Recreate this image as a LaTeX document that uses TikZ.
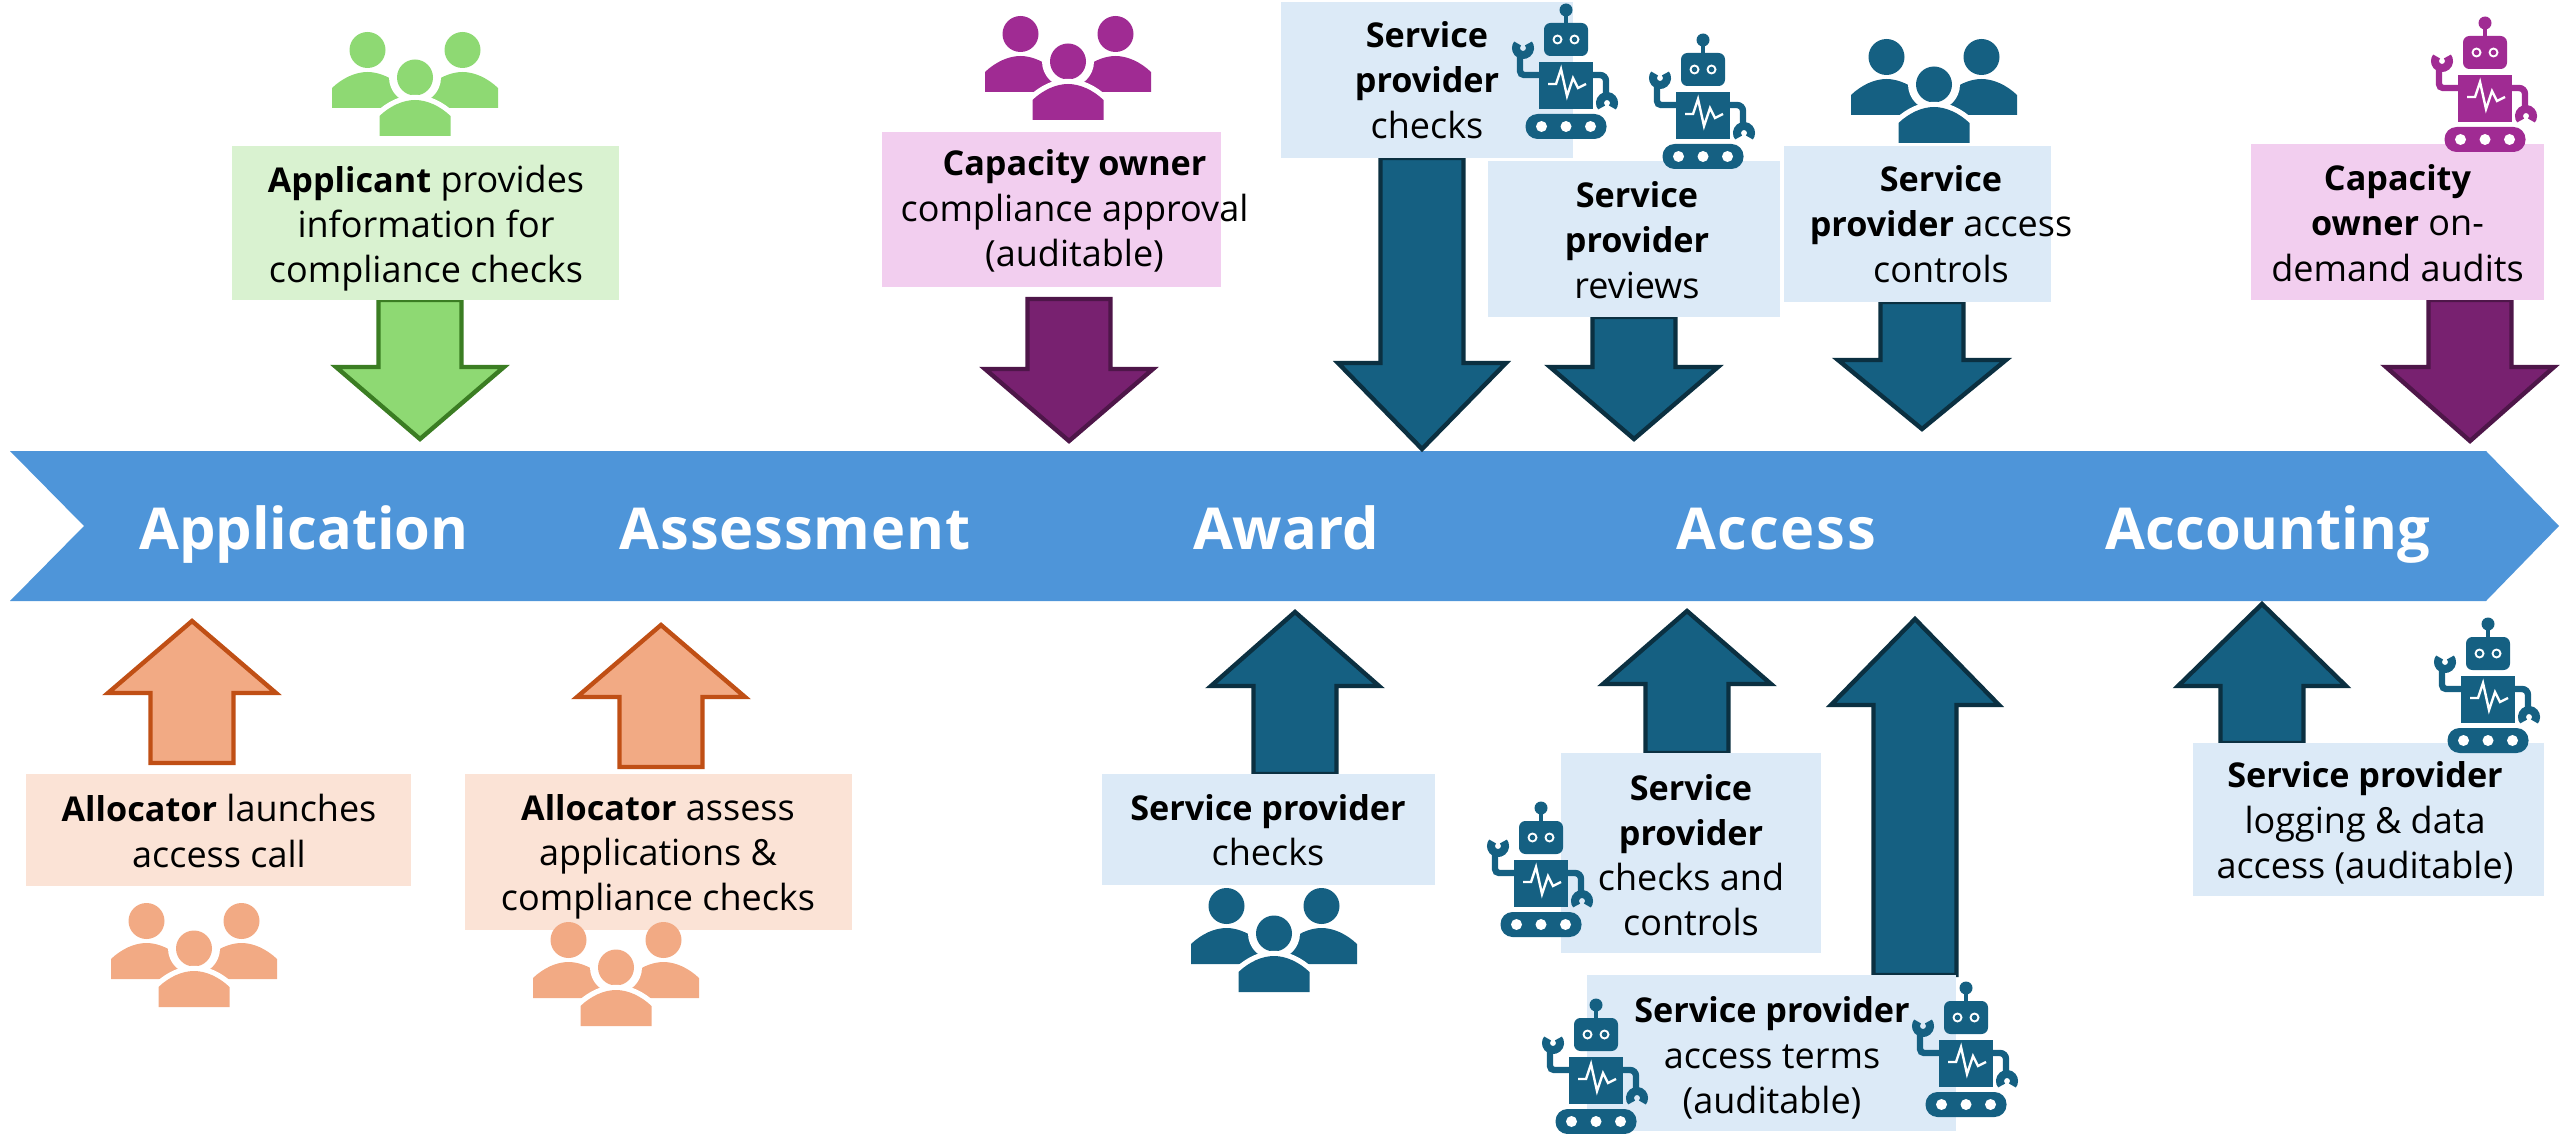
\documentclass[tikz,border=0pt]{standalone}
\usepackage{fontspec}
\setmainfont[BoldFeatures={Scale=0.95}]{Open Sans}
\definecolor{bandblue}{HTML}{4E95D9}
\definecolor{steel}{HTML}{156082}
\definecolor{steeldark}{HTML}{0B3041}
\definecolor{steelbg}{HTML}{DCEAF7}
\definecolor{leaf}{HTML}{8ED973}
\definecolor{leafdark}{HTML}{3B7D23}
\definecolor{leafbg}{HTML}{D9F2D0}
\definecolor{peach}{HTML}{F2AA84}
\definecolor{peachdark}{HTML}{C04F15}
\definecolor{peachbg}{HTML}{FBE3D6}
\definecolor{plum}{HTML}{A02B93}
\definecolor{plumdark}{HTML}{782170}
\definecolor{plumedge}{HTML}{4E1649}
\definecolor{plumbg}{HTML}{F2CEEF}
\tikzset{
  infotext/.style={inner sep=0pt, align=center, font=\fontsize{9}{11.3}\selectfont},
  stagename/.style={text=white, anchor=base, inner sep=0pt, font=\fontsize{15.2}{16}\selectfont\bfseries},
  pics/people/.style={code={
    \foreach \sx in {-47.5,47.5} {
      \fill[#1] (\sx,18) circle (18);
      \fill[#1] (\sx-35.5,76) -- (\sx-35.5,56) .. controls (\sx-25,46) and (\sx-12,40) .. (\sx,40)
        .. controls (\sx+12,40) and (\sx+25,46) .. (\sx+35.5,56) -- (\sx+35.5,76) -- cycle;
    }
    \fill[white] (0,45.5) circle (26);
    \fill[#1] (0,45.5) circle (18);
    \path[draw=white, line width=2.6pt] (-35.5,84) .. controls (-25,74) and (-12,68) .. (0,68)
      .. controls (12,68) and (25,74) .. (35.5,84);
    \fill[#1] (-35.5,104) -- (-35.5,84) .. controls (-25,74) and (-12,68) .. (0,68)
      .. controls (12,68) and (25,74) .. (35.5,84) -- (35.5,104) -- cycle;
  }},
  pics/robot/.style={code={
    \fill[#1] (0,7) circle (6.5);
    \fill[#1] (-2,10) rectangle (2,22);
    \fill[#1, rounded corners=1.6pt] (-22,20) rectangle (22,53);
    \foreach \sx in {-8.5,8.5} {
      \fill[white] (\sx,36.5) circle (5);
      \fill[#1] (\sx,36.5) circle (2.8);
    }
    \fill[#1] (-27,59) rectangle (27,106);
    \draw[white, line width=0.6pt] (-18,81) -- (-10,81) -- (-5,66) -- (1,93) -- (7,75) -- (12,85) -- (20,81);
    \draw[#1, line width=1.6pt, rounded corners=1pt] (-27,72) -- (-46,72) -- (-46,50);
    \draw[#1, line width=1.6pt, rounded corners=1.5pt] (27,72) -- (40,72) -- (40,92);
    \draw[#1, line width=2pt] (-43,45) ++(-40:7) arc[start angle=-40, end angle=220, radius=7];
    \draw[#1, line width=2pt] (41,100) ++(140:7) arc[start angle=140, end angle=400, radius=7];
    \fill[#1, rounded corners=3pt] (-40.5,111) rectangle (40.5,136);
    \foreach \sx in {-24.5,0,24.5} \fill[white] (\sx,123.5) circle (5.5);
  }},
}
% block arrow: style, centre x, tail y, shoulder y, tip y
\newcommand{\blockarrow}[5]{
  \path[#1, line width=1.1pt, miter limit=10] (#2-41.5,#3) -- (#2-41.5,#4) -- (#2-84,#4) -- (#2,#5) -- (#2+84,#4) -- (#2+41.5,#4) -- (#2+41.5,#3) -- cycle;
}
\begin{document}
\begin{tikzpicture}[x=0.25pt, y=-0.25pt]
  \useasboundingbox (0,0) rectangle (2560,1134);
  % stage band
  \fill[bandblue] (10,451) -- (2486,451) -- (2559,526) -- (2486,601) -- (10,601) -- (84,526) -- cycle;
  \node[stagename] (application) at (304,549) {Application};
  \node[stagename] (assessment) at (795,549) {\addfontfeature{LetterSpace=1.5}Assessment};
  \node[stagename] (award) at (1286,549) {Award};
  \node[stagename] (access) at (1776,549) {\addfontfeature{LetterSpace=3}Access};
  \node[stagename] (accounting) at (2268,549) {Accounting};
  % arrows above
  \blockarrow{fill=leaf, draw=leafdark}{420}{300}{367}{439}
  \blockarrow{fill=plumdark, draw=plumedge}{1069}{299}{369}{441}
  \blockarrow{fill=steel, draw=steeldark}{1422}{158}{363}{449}
  \blockarrow{fill=steel, draw=steeldark}{1634}{317}{367}{439}
  \blockarrow{fill=steel, draw=steeldark}{1922}{302}{360}{429}
  \blockarrow{fill=plumdark, draw=plumedge}{2470}{300}{367}{441}
  % arrows below
  \blockarrow{fill=peach, draw=peachdark}{192}{763}{693}{621}
  \blockarrow{fill=peach, draw=peachdark}{661}{767}{697}{625}
  \blockarrow{fill=steel, draw=steeldark}{1295}{774}{686}{612}
  \blockarrow{fill=steel, draw=steeldark}{1687}{753}{684}{611}
  \blockarrow{fill=steel, draw=steeldark}{1915}{975}{705}{619}
  \blockarrow{fill=steel, draw=steeldark}{2262}{743}{686}{604}
  % boxes above
  \fill[leafbg] (232,146) rectangle (619,300);
  \node[infotext] (applicant) at (426,228) {\textbf{Applicant} provides\\information for\\compliance checks};
  \fill[plumbg] (882,132) rectangle (1221,287);
  \node[infotext] (approval) at (1074.5,211) {\textbf{Capacity owner}\\compliance approval\\(auditable)};
  \fill[steelbg] (1281,2) rectangle (1573,158);
  \node[infotext] (checkstop) at (1427,80) {\textbf{Service}\\\textbf{provider}\\checks};
  \fill[steelbg] (1488,161) rectangle (1780,317);
  \node[infotext] (reviews) at (1637,240) {\textbf{Service}\\\textbf{provider}\\reviews};
  \fill[steelbg] (1784,146) rectangle (2051,302);
  \node[infotext] (controls) at (1941,224) {\textbf{Service}\\\textbf{provider} access\\controls};
  \fill[plumbg] (2251,144) rectangle (2544,300);
  \node[infotext] (audits) at (2397.5,223) {\textbf{Capacity}\\\textbf{owner} on-\\demand audits};
  % boxes below
  \fill[peachbg] (26,774) rectangle (411,886);
  \node[infotext] (launches) at (219,831) {\textbf{Allocator} launches\\access call};
  \fill[peachbg] (465,774) rectangle (852,930);
  \node[infotext] (assess) at (658,857) {\textbf{Allocator} assess\\applications \&\\compliance checks};
  \fill[steelbg] (1102,774) rectangle (1435,885);
  \node[infotext] (checksbottom) at (1268,830) {\textbf{Service provider}\\checks};
  \fill[steelbg] (1561,753) rectangle (1821,953);
  \node[infotext] (checkscontrols) at (1691,855) {\textbf{Service}\\\textbf{provider}\\checks and\\controls};
  \fill[steelbg] (1587,975) rectangle (1956,1131);
  \node[infotext] (terms) at (1772,1058) {\textbf{Service provider}\\access terms\\(auditable)};
  \fill[steelbg] (2193,743) rectangle (2544,896);
  \node[infotext] (logging) at (2365,823) {\textbf{Service provider}\\logging \& data\\access (auditable)};
  % people
  \pic at (415,32) {people=leaf};
  \pic at (1068,16) {people=plum};
  \pic at (1934,39) {people=steel};
  \pic at (194,903) {people=peach};
  \pic at (616,922) {people=peach};
  \pic at (1274,888) {people=steel};
  % robots
  \pic at (1566,3) {robot=steel};
  \pic at (1703,33) {robot=steel};
  \pic at (2485,16) {robot=plum};
  \pic at (2488,617) {robot=steel};
  \pic at (1541,801) {robot=steel};
  \pic at (1596,998) {robot=steel};
  \pic at (1966,981) {robot=steel};
\end{tikzpicture}
\end{document}
